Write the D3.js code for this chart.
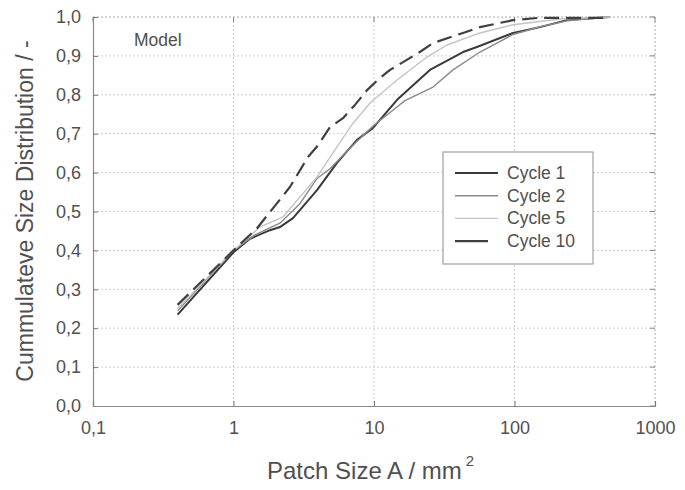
<!DOCTYPE html>
<html>
<head>
<meta charset="utf-8">
<script src="https://cdn.jsdelivr.net/npm/d3@7"></script>
<style>
  body { margin: 0; background: #fff; }
  svg { display: block; font-family: "Liberation Sans", Arial, sans-serif; }
</style>
</head>
<body>
<svg id="chart" width="685" height="490"></svg>
<script>
// ---- data (A in mm², cumulative fraction) ----
const seriesNames = ["Cycle 1", "Cycle 2", "Cycle 5", "Cycle 10"];
const cycle1 = [[0.40,0.235],[1.0,0.395],[1.31,0.43],[1.82,0.452],[2.14,0.46],[2.65,0.483],[3.93,0.555],[5.45,0.625],[7.57,0.684],[9.85,0.715],[14.6,0.787],[25.0,0.864],[43.0,0.91],[54.0,0.923],[97.6,0.959],[152,0.974],[236,0.992],[479,1.0]];
const cycle2 = [[0.40,0.245],[1.0,0.40],[1.42,0.44],[2.14,0.47],[2.97,0.52],[3.93,0.585],[4.86,0.61],[6.75,0.663],[9.85,0.72],[13.7,0.761],[16.6,0.785],[20.2,0.80],[26.3,0.82],[36.5,0.864],[56.8,0.91],[97.6,0.955],[152,0.975],[236,0.99],[479,1.0]];
const cycle5 = [[0.40,0.25],[1.0,0.40],[1.54,0.46],[2.25,0.486],[3.93,0.589],[5.45,0.666],[7.09,0.727],[9.37,0.779],[14.6,0.838],[23.8,0.897],[33.1,0.928],[56.8,0.959],[97.6,0.98],[211,0.995],[479,1.0]];
const cycle10 = [[0.40,0.26],[1.0,0.40],[1.47,0.457],[2.21,0.537],[2.52,0.563],[3.39,0.64],[3.99,0.67],[4.86,0.717],[6.02,0.74],[7.32,0.774],[8.92,0.812],[11.0,0.843],[13.0,0.864],[21.2,0.91],[26.3,0.933],[43.0,0.959],[56.8,0.974],[97.6,0.992],[152,0.998],[479,0.998]];
const xTicks = [0.1, 1, 10, 100, 1000];
const xTickLabels = ["0,1", "1", "10", "100", "1000"];
const yTicks = [0, 0.1, 0.2, 0.3, 0.4, 0.5, 0.6, 0.7, 0.8, 0.9, 1.0];

const allSeries = [cycle1, cycle2, cycle5, cycle10];
const styles = [
  { color: "#3a3a3a", width: 2.0, dash: null, legendLen: 43 },
  { color: "#8a8a8a", width: 1.4, dash: null, legendLen: 43 },
  { color: "#c4c4c4", width: 1.4, dash: null, legendLen: 43 },
  { color: "#404040", width: 2.2, dash: "15,7", legendLen: 33 }
];

// ---- layout ----
const svg = d3.select("#chart");
const L = 93, R = 655, T = 17, B = 406;
const x = d3.scaleLog().domain([0.1, 1000]).range([L, R]);
const y = d3.scaleLinear().domain([0, 1]).range([B, T]);

// grid
const grid = svg.append("g");
grid.selectAll(".gx").data(xTicks.slice(1, -1)).enter().append("line")
  .attr("x1", d => x(d)).attr("x2", d => x(d)).attr("y1", T).attr("y2", B)
  .attr("stroke", "#cfcfcf").attr("stroke-width", 1).attr("stroke-dasharray", "2,2");
grid.selectAll(".gy").data(yTicks.slice(1, -1)).enter().append("line")
  .attr("x1", L).attr("x2", R).attr("y1", d => y(d)).attr("y2", d => y(d))
  .attr("stroke", "#cfcfcf").attr("stroke-width", 1).attr("stroke-dasharray", "2,2");

// frame: top/right dotted, left/bottom solid
svg.append("line").attr("x1", L).attr("x2", R).attr("y1", T).attr("y2", T)
  .attr("stroke", "#aaa").attr("stroke-dasharray", "2,2");
svg.append("line").attr("x1", R).attr("x2", R).attr("y1", T).attr("y2", B)
  .attr("stroke", "#aaa").attr("stroke-dasharray", "2,2");

// axes
const fmtY = d => d3.format(".1f")(d).replace(".", ",");
const yAxis = d3.axisLeft(y).tickValues(yTicks).tickFormat(fmtY).tickSize(-5).tickPadding(12);
const xAxis = d3.axisBottom(x).tickValues(xTicks).tickFormat((d, i) => xTickLabels[i]).tickSize(-5).tickPadding(15);

const gy = svg.append("g").attr("transform", `translate(${L},0)`).call(yAxis);
const gx = svg.append("g").attr("transform", `translate(0,${B})`).call(xAxis);
[gx, gy].forEach(g => {
  g.select(".domain").attr("stroke", "#8a8a8a").attr("stroke-width", 1.2);
  g.selectAll(".tick line").attr("stroke", "#777");
  g.selectAll(".tick text").attr("fill", "#505050").attr("font-size", 18)
    .attr("font-family", "Liberation Sans, Arial, sans-serif");
});

// right/top inner ticks
const gr = svg.append("g");
gr.selectAll("line").data(yTicks).enter().append("line")
  .attr("x1", R - 5).attr("x2", R).attr("y1", d => y(d)).attr("y2", d => y(d)).attr("stroke", "#888");
const gt = svg.append("g");
gt.selectAll("line").data(xTicks).enter().append("line")
  .attr("x1", d => x(d)).attr("x2", d => x(d)).attr("y1", T).attr("y2", T + 5).attr("stroke", "#888");

// lines
const line = d3.line().x(d => x(d[0])).y(d => y(d[1]));
allSeries.forEach((s, i) => {
  svg.append("path").datum(s).attr("d", line)
    .attr("fill", "none").attr("stroke", styles[i].color)
    .attr("stroke-width", styles[i].width)
    .attr("stroke-dasharray", styles[i].dash)
    .attr("stroke-linejoin", "round");
});

// "Model" label
svg.append("text").attr("x", 134).attr("y", 46).text("Model")
  .attr("font-size", 17.5).attr("fill", "#505050");

// legend
const lg = svg.append("g");
lg.append("rect").attr("x", 443).attr("y", 152).attr("width", 150).attr("height", 112)
  .attr("fill", "#fff").attr("stroke", "#a0a0a0").attr("stroke-width", 1.2);
seriesNames.forEach((name, i) => {
  const yy = 173 + i * 22.7;
  lg.append("line").attr("x1", 455).attr("x2", 455 + styles[i].legendLen)
    .attr("y1", yy).attr("y2", yy)
    .attr("stroke", styles[i].color).attr("stroke-width", styles[i].width);
  lg.append("text").attr("x", 507).attr("y", yy + 6).text(name)
    .attr("font-size", 17.5).attr("fill", "#505050");
});

// axis titles
const xt = svg.append("text").attr("x", 267).attr("y", 479)
  .attr("font-size", 24).attr("fill", "#505050");
xt.append("tspan").text("Patch Size A / mm");
xt.append("tspan").attr("dx", 4).attr("dy", -13).attr("font-size", 15).text("2");

svg.append("text").attr("transform", "translate(33,211) rotate(-90)")
  .attr("text-anchor", "middle").attr("font-size", 23).attr("fill", "#505050")
  .text("Cummulateve Size Distribution / -");
</script>
</body>
</html>
